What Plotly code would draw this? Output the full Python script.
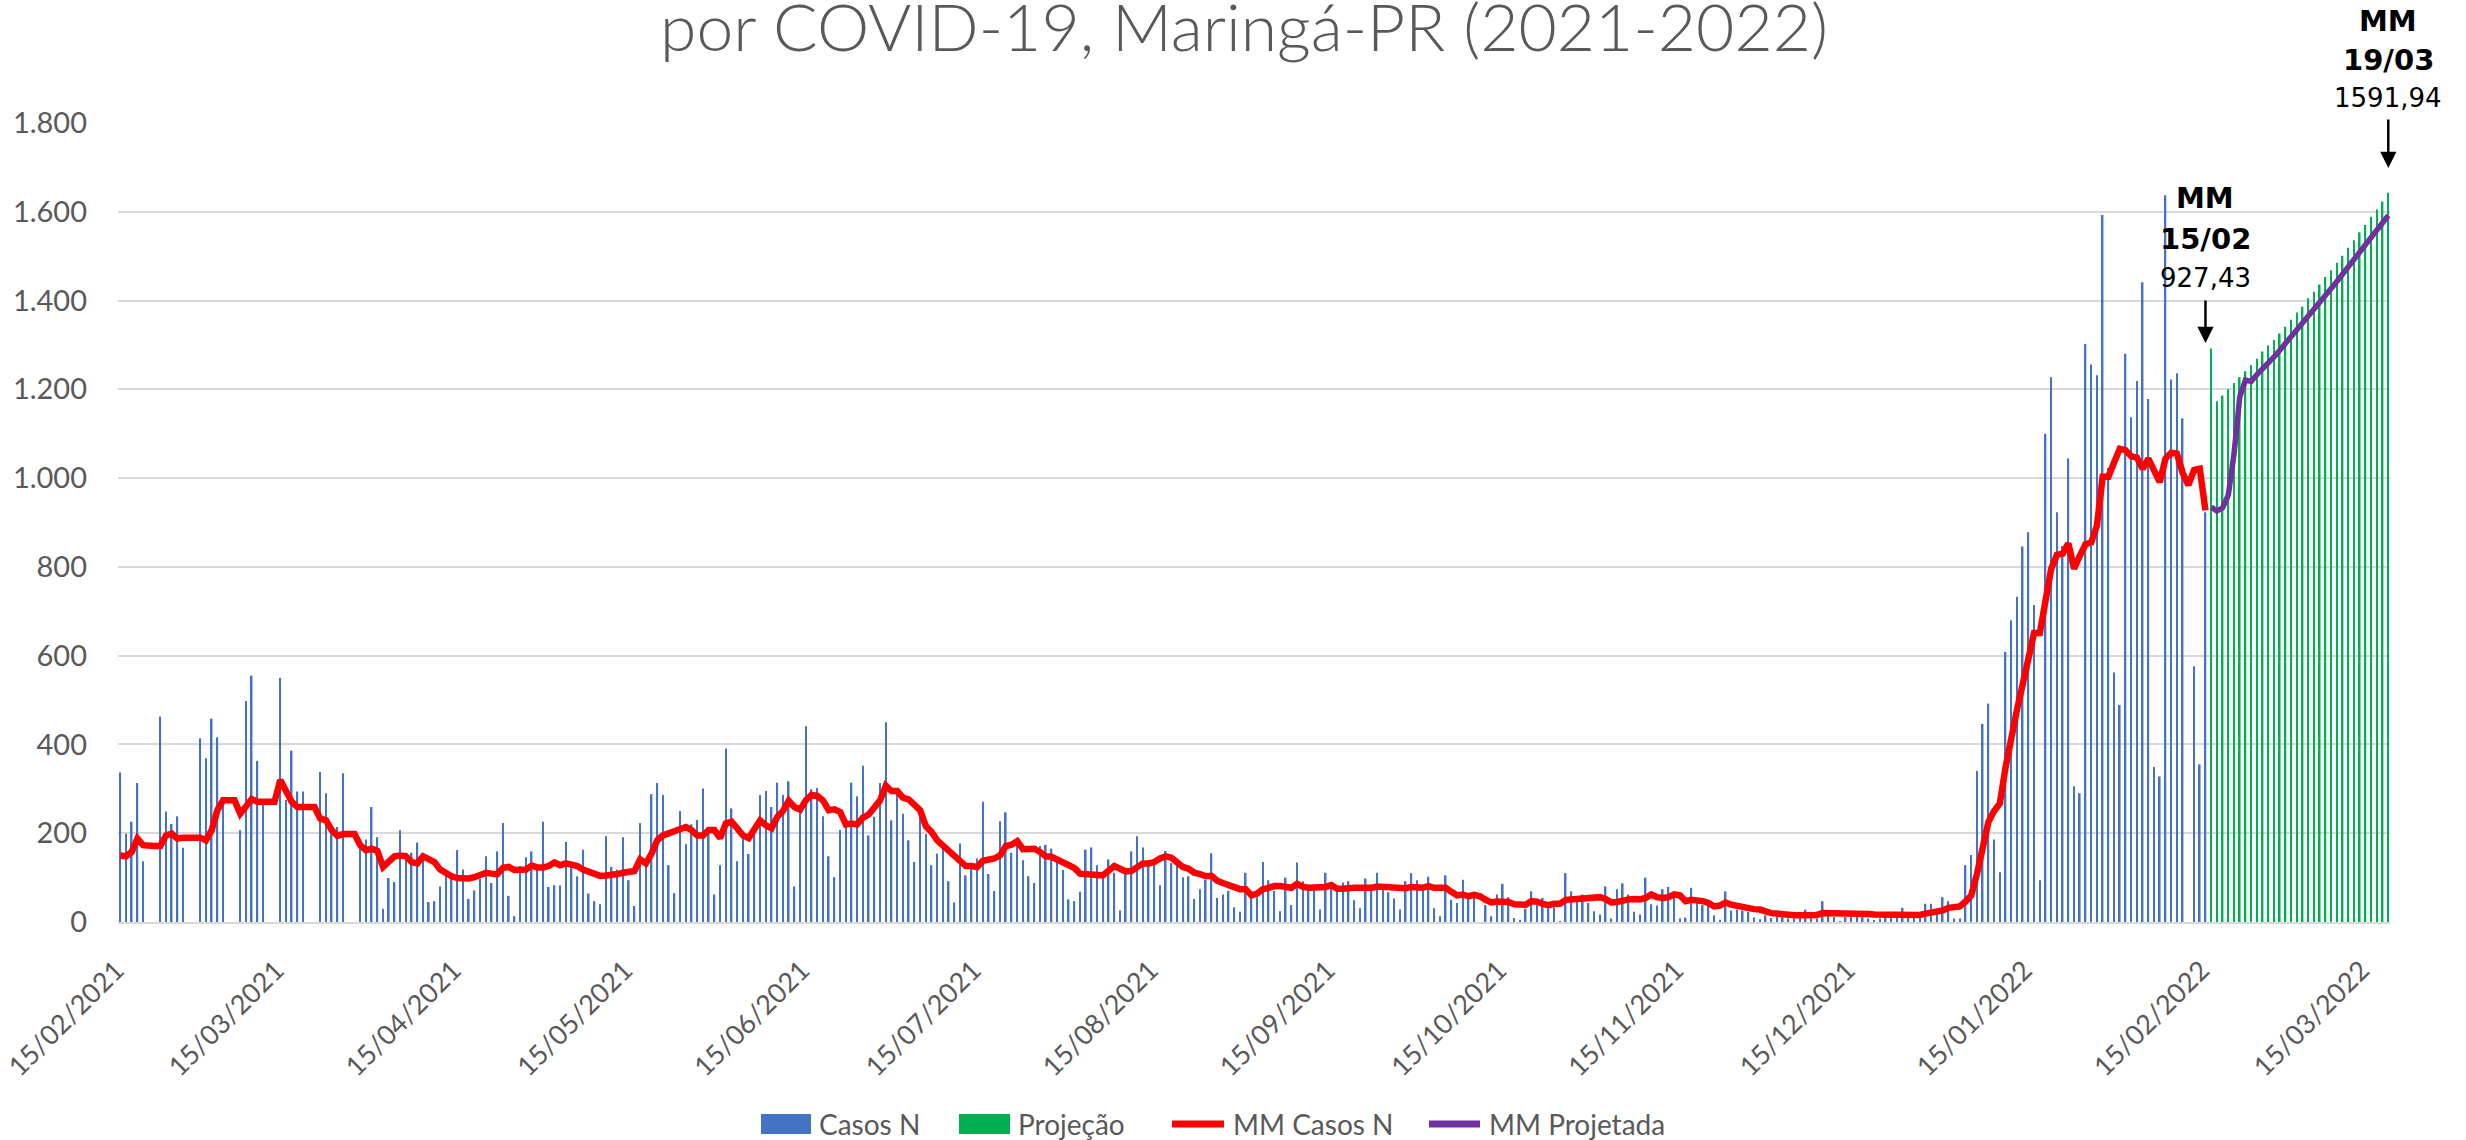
import pandas as pd
import plotly.graph_objects as go

# ---------------- data ----------------
start_date = "2021-02-15"
end_obs = "2022-02-15"
start_proj = "2022-02-16"
end_proj = "2022-03-19"

casos_n = [
    337, 199, 226, 313, 137, 0, 0,
    463, 249, 221, 238, 167, 0, 0,
    414, 369, 458, 416, 270, 0, 0,
    207, 498, 555, 363, 267, 0, 0,
    550, 275, 386, 294, 294, 0, 0,
    338, 290, 200, 214, 335, 0, 0,
    169, 186, 259, 191, 30, 99, 90,
    207, 156, 156, 179, 150, 45, 47,
    80, 109, 101, 162, 118, 52, 71,
    98, 148, 88, 159, 223, 59, 13,
    126, 146, 159, 124, 226, 79, 83,
    82, 180, 124, 103, 163, 64, 47,
    40, 193, 124, 118, 191, 94, 36,
    223, 139, 288, 313, 286, 128, 65,
    250, 175, 220, 230, 301, 199, 62,
    128, 391, 256, 137, 192, 153, 199,
    286, 295, 259, 314, 286, 317, 80,
    250, 441, 299, 302, 238, 148, 101,
    207, 214, 314, 283, 352, 195, 237,
    313, 450, 229, 291, 244, 184, 135,
    244, 198, 128, 154, 169, 92, 44,
    177, 105, 132, 143, 271, 108, 70,
    227, 247, 156, 190, 139, 103, 88,
    171, 174, 165, 135, 117, 51, 47,
    68, 163, 168, 128, 103, 141, 111,
    26, 109, 159, 193, 168, 139, 139,
    83, 160, 133, 128, 101, 103, 52,
    74, 95, 155, 54, 62, 70, 33,
    23, 111, 59, 56, 135, 94, 70,
    24, 100, 38, 134, 92, 71, 71,
    28, 111, 79, 71, 89, 92, 49,
    31, 98, 84, 111, 79, 67, 53,
    28, 92, 110, 94, 71, 102, 31,
    13, 105, 50, 43, 95, 54, 56,
    0, 38, 13, 62, 86, 56, 9,
    5, 30, 69, 39, 54, 31, 33,
    2, 110, 69, 56, 62, 43, 24,
    17, 80, 8, 74, 87, 62, 23,
    17, 100, 40, 37, 74, 79, 55,
    8, 10, 77, 53, 38, 38, 15,
    5, 69, 26, 28, 26, 23, 10,
    6, 15, 9, 15, 11, 8, 8,
    14, 28, 23, 8, 47, 15, 11,
    2, 11, 11, 11, 11, 8, 4,
    8, 15, 20, 15, 32, 15, 11,
    11, 41, 41, 23, 56, 47, 8,
    8, 128, 151, 340, 446, 492, 186,
    112, 608, 680, 733, 846, 878, 714,
    94, 1100, 1227, 923, 847, 1044, 306,
    290, 1302, 1256, 1232, 1593, 1023, 562,
    489, 1280, 1137, 1219, 1441, 1178, 349,
    328, 1637, 1222, 1236, 1135, 0, 576,
    355, 923,
]

projecao = [
    1292, 1173, 1186, 1200, 1214, 1227, 1241, 1255, 1269, 1285, 1299,
    1311, 1326, 1341, 1357, 1373, 1386, 1405, 1420, 1436, 1453, 1468,
    1485, 1501, 1519, 1536, 1554, 1570, 1589, 1605, 1623, 1643,
]

mm_casos_n = [
    150, 148, 158, 188, 173, 171, 171, 171, 195, 199, 188, 190, 190, 190,
    190, 184, 207, 252, 274, 274, 274, 244, 263, 277, 271, 271, 271, 271,
    320, 293, 271, 259, 259, 259, 259, 233, 229, 207, 194, 198, 198, 198,
    173, 162, 165, 160, 124, 138, 148, 150, 148, 135, 132, 148, 143, 135,
    118, 109, 103, 99, 98, 98, 101, 105, 111, 109, 108, 122, 124, 117,
    118, 118, 127, 123, 123, 126, 134, 128, 132, 128, 126, 118, 114, 109,
    104, 105, 105, 108, 111, 114, 115, 141, 132, 154, 184, 195, 199, 203,
    207, 214, 207, 195, 195, 207, 207, 189, 222, 226, 211, 195, 189, 207,
    229, 218, 211, 237, 250, 273, 259, 253, 274, 286, 284, 274, 252, 254,
    248, 220, 222, 220, 235, 242, 259, 274, 307, 295, 295, 280, 276, 263,
    252, 216, 203, 184, 173, 160, 148, 138, 126, 126, 124, 138, 139, 143,
    150, 171, 174, 182, 164, 163, 165, 158, 148, 147, 141, 138, 129, 122,
    109, 109, 108, 106, 105, 118, 126, 120, 114, 115, 124, 132, 132, 135,
    143, 148, 145, 135, 124, 120, 111, 108, 103, 104, 93, 88, 84, 80,
    74, 74, 60, 64, 74, 77, 81, 81, 79, 77, 86, 79, 77, 77,
    77, 79, 83, 75, 75, 77, 77, 77, 76, 77, 80, 79, 77, 77,
    77, 76, 79, 77, 77, 81, 77, 77, 77, 68, 60, 62, 58, 61,
    58, 50, 44, 46, 45, 45, 40, 39, 39, 47, 46, 41, 38, 41,
    41, 50, 51, 52, 53, 54, 54, 56, 52, 44, 45, 49, 51, 52,
    51, 54, 62, 56, 54, 56, 62, 60, 47, 50, 50, 47, 43, 35,
    37, 44, 39, 36, 34, 29, 29, 28, 23, 20, 19, 17, 15, 15,
    15, 15, 17, 16, 20, 20, 21, 21, 20, 20, 20, 18, 18, 17,
    17, 16, 15, 14, 14, 15, 14, 16, 19, 21, 23, 26, 32, 35,
    35, 46, 60, 108, 160, 225, 250, 267, 348, 420, 478, 535, 592, 651,
    651, 734, 796, 827, 830, 853, 796, 825, 851, 855, 893, 1003, 1003, 1035,
    1066, 1063, 1049, 1046, 1021, 1044, 1014, 991, 1044, 1057, 1055, 1012, 984, 1018,
    1021, 927.43,
]

mm_projetada = [
    935, 926, 933, 962, 1055, 1183, 1221, 1218, 1233, 1245, 1259, 1273,
    1288, 1303, 1318, 1333, 1348, 1364, 1379, 1395, 1411, 1427, 1443,
    1459, 1476, 1492, 1509, 1526, 1542, 1559, 1575, 1591.94,
]

y_ticks = [0, 200, 400, 600, 800, 1000, 1200, 1400, 1600, 1800]
y_tick_labels = ["0", "200", "400", "600", "800", "1.000", "1.200",
                 "1.400", "1.600", "1.800"]

x_tick_dates = ["2021-02-15", "2021-03-15", "2021-04-15", "2021-05-15",
                "2021-06-15", "2021-07-15", "2021-08-15", "2021-09-15",
                "2021-10-15", "2021-11-15", "2021-12-15", "2022-01-15",
                "2022-02-15", "2022-03-15"]
x_tick_labels = ["15/02/2021", "15/03/2021", "15/04/2021", "15/05/2021",
                 "15/06/2021", "15/07/2021", "15/08/2021", "15/09/2021",
                 "15/10/2021", "15/11/2021", "15/12/2021", "15/01/2022",
                 "15/02/2022", "15/03/2022"]

series_names = ["Casos N", "Projeção", "MM Casos N", "MM Projetada"]
series_colors = ["#4472C4", "#00B050", "#FF0000", "#7030A0"]

title_text = "por COVID-19, Maringá-PR (2021-2022)"

# ---------------- figure ----------------
obs_dates = pd.date_range(start_date, end_obs, freq="D")
proj_dates = pd.date_range(start_proj, end_proj, freq="D")

W, H = 2466, 1140
L, R, T, B = 118, 76, 123, 218
plot_w = W - L - R
plot_h = H - T - B

def py(p):
    """pixel row -> paper y"""
    return (H - B - p) / plot_h

def px(p):
    """pixel column -> paper x"""
    return (p - L) / plot_w

AX_COLOR = "#595959"
FONT = "Lato"

fig = go.Figure()
fig.add_trace(go.Bar(x=obs_dates, y=casos_n[:len(obs_dates)], name=series_names[0],
                     marker=dict(color=series_colors[0], line=dict(width=0))))
fig.add_trace(go.Bar(x=proj_dates, y=projecao[:len(proj_dates)], name=series_names[1],
                     marker=dict(color=series_colors[1], line=dict(width=0))))
fig.add_trace(go.Scatter(x=obs_dates, y=mm_casos_n[:len(obs_dates)], name=series_names[2],
                         mode="lines", line=dict(color=series_colors[2], width=6.5)))
fig.add_trace(go.Scatter(x=proj_dates, y=mm_projetada[:len(proj_dates)], name=series_names[3],
                         mode="lines", line=dict(color=series_colors[3], width=5.5)))

day = pd.Timedelta(days=1)
x0 = obs_dates[0] - 0.4 * day
x1 = proj_dates[-1] + 0.3 * day

fig.update_layout(
    width=W, height=H,
    margin=dict(l=L, r=R, t=T, b=B, pad=0, autoexpand=False),
    paper_bgcolor="white", plot_bgcolor="white",
    barmode="overlay", bargap=0.72,
    font=dict(family=FONT, color=AX_COLOR, size=28),
    showlegend=False,
    xaxis=dict(type="date", range=[x0, x1], tickmode="array",
               tickvals=x_tick_dates, ticktext=x_tick_labels, tickangle=-45,
               showgrid=False, zeroline=False, showline=True,
               linecolor="#D9D9D9", linewidth=1.5, ticks="",
               tickfont=dict(family=FONT, size=27, color=AX_COLOR),
               ticklabelstandoff=20, ticklabelshift=-4,
               ticklabeloverflow="allow", automargin=False),
    yaxis=dict(range=[0, 1800], tickmode="array", tickvals=y_ticks,
               ticktext=y_tick_labels, showgrid=True, gridcolor="#D9D9D9",
               gridwidth=1.5, zeroline=False, showline=False, ticks="",
               tickfont=dict(family=FONT, size=29, color=AX_COLOR),
               ticklabelstandoff=30, automargin=False),
)

annotations = [
    dict(text=title_text, xref="paper", yref="paper", x=0.4955, y=py(25),
         xanchor="center", yanchor="middle", showarrow=False,
         font=dict(family=FONT, size=66, color=AX_COLOR, weight=300)),
]

ANN_FONT = "DejaVu Sans"
def mm_label(date, lines, sizes, rows, tip_row, tail_row):
    out = []
    for txt, s, r in zip(lines, sizes, rows):
        out.append(dict(text=txt, xref="x", yref="paper", x=date, y=py(r),
                        xanchor="center", yanchor="middle", showarrow=False,
                        font=dict(family=ANN_FONT, size=s, color="black")))
    out.append(dict(text="", xref="x", yref="paper", x=date, y=py(tip_row),
                    ax=0, ay=-(tip_row - tail_row), axref="pixel", ayref="pixel",
                    showarrow=True, arrowhead=2, arrowsize=1.3, arrowwidth=2.5,
                    arrowcolor="black"))
    return out

annotations += mm_label(end_obs, ["<b>MM</b>", "<b>15/02</b>", "927,43"], [29, 29, 26],
                        [198, 239, 278], 343, 299)
annotations += mm_label(end_proj, ["<b>MM</b>", "<b>19/03</b>", "1591,94"], [29, 29, 26],
                        [21, 60, 98], 168, 118)

# legend drawn as keys + labels below the plot
legend_row = 1124
key_spans = [(761, 811), (959, 1010), (1172, 1224), (1429, 1480)]
label_left = [817, 1016, 1231, 1487]
shapes = []
for i, (a, b) in enumerate(key_spans):
    if i < 2:
        shapes.append(dict(type="rect", xref="paper", yref="paper",
                           x0=px(a), x1=px(b), y0=py(legend_row + 10), y1=py(legend_row - 10),
                           fillcolor=series_colors[i], line=dict(width=0)))
    else:
        shapes.append(dict(type="line", xref="paper", yref="paper",
                           x0=px(a), x1=px(b), y0=py(legend_row), y1=py(legend_row),
                           line=dict(color=series_colors[i], width=7)))
    annotations.append(dict(text=series_names[i], xref="paper", yref="paper",
                            x=px(label_left[i]), y=py(legend_row),
                            xanchor="left", yanchor="middle", showarrow=False,
                            font=dict(family=FONT, size=28, color=AX_COLOR)))

fig.update_layout(annotations=annotations, shapes=shapes)

# the page's default 8px body margin would offset the figure; remove it
fig.write_html("out.html", config={"displayModeBar": False},
               post_script="document.body.style.margin='0';")
